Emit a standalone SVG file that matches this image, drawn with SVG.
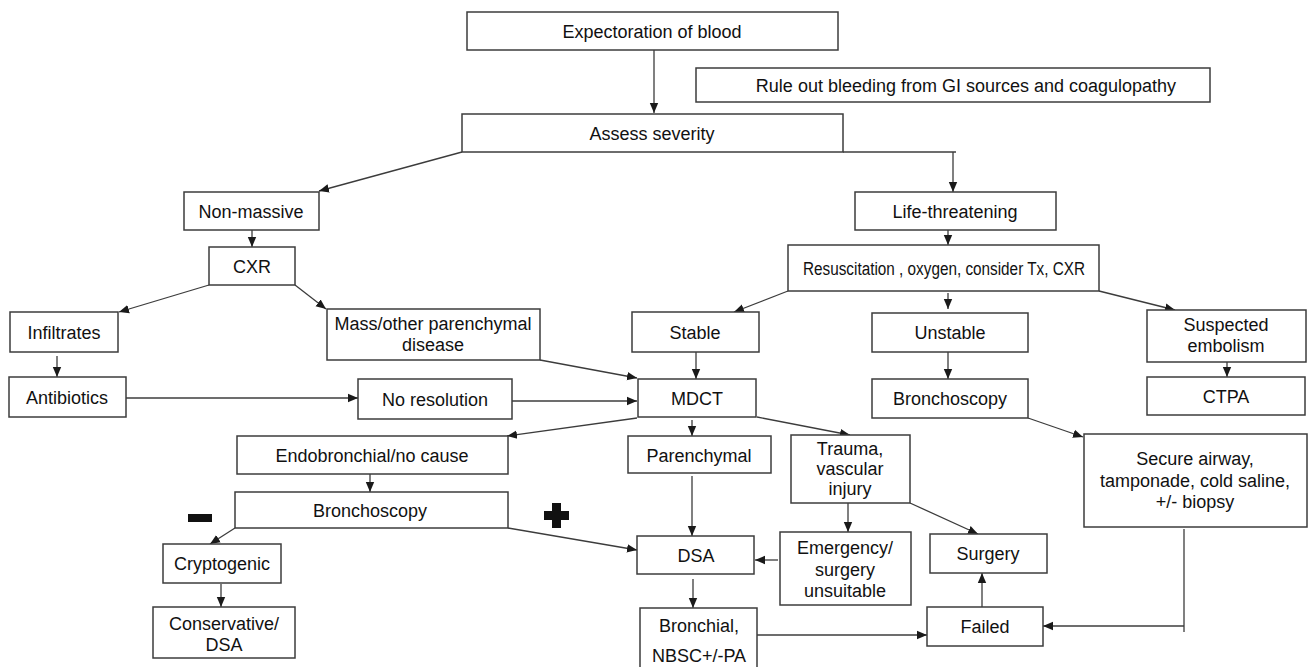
<svg xmlns="http://www.w3.org/2000/svg" width="1309" height="667" viewBox="0 0 1309 667">
<defs>
<marker id="ah" markerUnits="userSpaceOnUse" markerWidth="10" markerHeight="10" viewBox="0 0 10 10" refX="10" refY="5" orient="auto">
<path d="M0,0.8 L10,5 L0,9.2 Z" fill="#1a1a1a"/>
</marker>
<style>
.b{fill:#fff;stroke:#3c3c3c;stroke-width:1.5}
.t{font-family:"Liberation Sans",Arial,sans-serif;font-size:18px;fill:#111;text-anchor:middle}
.c{fill:none;stroke:#3c3c3c;stroke-width:1.3}
.a{marker-end:url(#ah)}
</style>
</defs>
<rect width="1309" height="667" fill="#fff"/>
<g id="connectors">
<path class="c a" d="M654,50 V113"/>
<path class="c a" d="M462,152 L319,191"/>
<path class="c" d="M843,152 H956"/>
<path class="c a" d="M953,152 V192"/>
<path class="c a" d="M252,230 V247"/>
<path class="c a" d="M209,285 L119,312"/>
<path class="c a" d="M295,285 L326,309"/>
<path class="c a" d="M57,356 V377"/>
<path class="c a" d="M126,398 H358"/>
<path class="c a" d="M512,401 H637"/>
<path class="c a" d="M540,360 L637,378"/>
<path class="c a" d="M948,230 V245"/>
<path class="c a" d="M788,291 L734,312"/>
<path class="c a" d="M948,293 V309"/>
<path class="c a" d="M1099,291 L1175,310"/>
<path class="c a" d="M696,352 V379"/>
<path class="c a" d="M948,352 V379"/>
<path class="c a" d="M1227,362 V377"/>
<path class="c a" d="M637,418 L507,436"/>
<path class="c a" d="M692,420 V436"/>
<path class="c a" d="M757,417 L850,435"/>
<path class="c a" d="M1028,418 L1083,437"/>
<path class="c a" d="M370,474 V492"/>
<path class="c a" d="M235,528 L210,544"/>
<path class="c a" d="M508,528 L637,550"/>
<path class="c a" d="M221,584 V607"/>
<path class="c a" d="M692,476 V536"/>
<path class="c a" d="M848,503 V532"/>
<path class="c a" d="M910,503 L978,534"/>
<path class="c a" d="M778,560 H755"/>
<path class="c a" d="M693,579 V608"/>
<path class="c a" d="M753,635 H927"/>
<path class="c a" d="M982,607 V573"/>
<path class="c" d="M1184,529 V632"/>
<path class="c a" d="M1184,626 H1043"/>
</g>
<g id="n_expect"><rect class="b" x="467" y="12" width="371" height="38"/><text class="t" x="652" y="37.5">Expectoration of blood</text></g>
<g id="n_ruleout"><rect class="b" x="696" y="68" width="514" height="34"/><text class="t" x="966" y="91.5">Rule out bleeding from GI sources and coagulopathy</text></g>
<g id="n_assess"><rect class="b" x="462" y="114" width="381" height="38"/><text class="t" x="652" y="140">Assess severity</text></g>
<g id="n_nonmassive"><rect class="b" x="184" y="192" width="135" height="38"/><text class="t" x="251" y="217.5">Non-massive</text></g>
<g id="n_cxr"><rect class="b" x="209" y="247" width="86" height="38"/><text class="t" x="252" y="272.5">CXR</text></g>
<g id="n_infiltrates"><rect class="b" x="10" y="312" width="108" height="40"/><text class="t" x="64" y="338.5">Infiltrates</text></g>
<g id="n_mass"><rect class="b" x="327" y="309" width="213" height="51"/><text class="t" x="433" y="329.5">Mass/other parenchymal</text><text class="t" x="433" y="350.5">disease</text></g>
<g id="n_antibiotics"><rect class="b" x="9" y="377" width="117" height="40"/><text class="t" x="67" y="403.5">Antibiotics</text></g>
<g id="n_noresolution"><rect class="b" x="358" y="379" width="154" height="40"/><text class="t" x="435" y="405.5">No resolution</text></g>
<g id="n_life"><rect class="b" x="855" y="192" width="201" height="38"/><text class="t" x="955" y="217.5">Life-threatening</text></g>
<g id="n_resus"><rect class="b" x="788" y="245" width="311" height="46"/><text class="t" x="944" y="274.5" textLength="282" lengthAdjust="spacingAndGlyphs">Resuscitation , oxygen, consider Tx, CXR</text></g>
<g id="n_stable"><rect class="b" x="632" y="312" width="127" height="40"/><text class="t" x="695" y="338.5">Stable</text></g>
<g id="n_unstable"><rect class="b" x="872" y="313" width="156" height="39"/><text class="t" x="950" y="338.5">Unstable</text></g>
<g id="n_suspected"><rect class="b" x="1147" y="310" width="159" height="52"/><text class="t" x="1226" y="330.5">Suspected</text><text class="t" x="1226" y="351.5">embolism</text></g>
<g id="n_ctpa"><rect class="b" x="1147" y="377" width="158" height="38"/><text class="t" x="1226" y="402.5">CTPA</text></g>
<g id="n_mdct"><rect class="b" x="638" y="379" width="118" height="38"/><text class="t" x="697" y="404.5">MDCT</text></g>
<g id="n_bronch_r"><rect class="b" x="872" y="379" width="156" height="39"/><text class="t" x="950" y="404.5">Bronchoscopy</text></g>
<g id="n_endo"><rect class="b" x="237" y="436" width="271" height="38"/><text class="t" x="372" y="461.5">Endobronchial/no cause</text></g>
<g id="n_parenchymal"><rect class="b" x="628" y="436" width="143" height="37"/><text class="t" x="699" y="461.5">Parenchymal</text></g>
<g id="n_trauma"><rect class="b" x="791" y="435" width="119" height="68"/><text class="t" x="850" y="454.5">Trauma,</text><text class="t" x="850" y="474.5">vascular</text><text class="t" x="850" y="494.5">injury</text></g>
<g id="n_secure"><rect class="b" x="1084" y="434" width="223" height="93"/><text class="t" x="1195" y="464.5">Secure airway,</text><text class="t" x="1195" y="486.5">tamponade, cold saline,</text><text class="t" x="1195" y="507.5">+/- biopsy</text></g>
<g id="n_bronch_l"><rect class="b" x="235" y="492" width="273" height="36"/><text class="t" x="370" y="516.5">Bronchoscopy</text></g>
<g id="n_minus"><rect x="188" y="514" width="24" height="8" fill="#111"/></g>
<g id="n_plus"><path d="M552,503 H561 V511 H569 V520 H561 V528 H552 V520 H544 V511 H552 Z" fill="#111"/></g>
<g id="n_crypto"><rect class="b" x="163" y="544" width="118" height="39"/><text class="t" x="222" y="569.5">Cryptogenic</text></g>
<g id="n_conservative"><rect class="b" x="153" y="607" width="142" height="51"/><text class="t" x="224" y="629.5">Conservative/</text><text class="t" x="224" y="650.5">DSA</text></g>
<g id="n_dsa"><rect class="b" x="637" y="536" width="117" height="38"/><text class="t" x="696" y="561.5">DSA</text></g>
<g id="n_emergency"><rect class="b" x="780" y="532" width="131" height="73"/><text class="t" x="845" y="553.5">Emergency/</text><text class="t" x="845" y="575.5">surgery</text><text class="t" x="845" y="596.5">unsuitable</text></g>
<g id="n_surgery"><rect class="b" x="930" y="534" width="117" height="39"/><text class="t" x="988" y="559.5">Surgery</text></g>
<g id="n_bronchial"><rect class="b" x="640" y="608" width="117" height="72"/><text class="t" x="699" y="631.5">Bronchial,</text><text class="t" x="699" y="661.5">NBSC+/-PA</text></g>
<g id="n_failed"><rect class="b" x="927" y="607" width="116" height="39"/><text class="t" x="985" y="632.5">Failed</text></g>
</svg>
